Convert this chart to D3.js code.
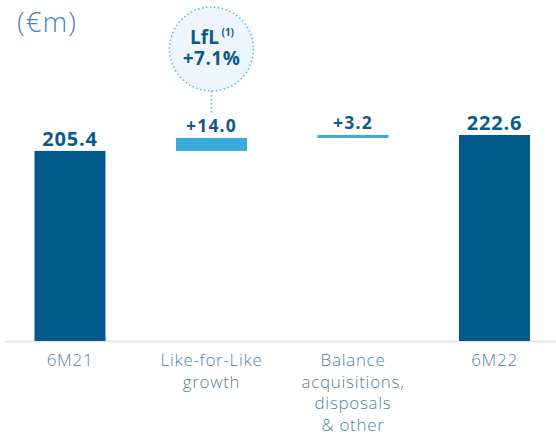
<!DOCTYPE html>
<html>
<head>
<meta charset="utf-8">
<script src="https://cdn.jsdelivr.net/npm/d3@7"></script>
<style>
  html, body { margin: 0; padding: 0; background: #fff; }
  svg { display: block; font-family: "Open Sans", "Noto Sans", sans-serif; }
</style>
</head>
<body>
<svg id="chart" width="556" height="435"></svg>
<script>
// Revenue bridge, €m
const categories = ["6M21", "Like-for-Like growth", "Balance acquisitions, disposals & other", "6M22"];
const categoryLines = [["6M21"], ["Like-for-Like", "growth"], ["Balance", "acquisitions,", "disposals", "& other"], ["6M22"]];
const kinds = ["total", "delta", "delta", "total"];
const values = [205.4, 14.0, 3.2, 222.6];
const valueLabels = ["205.4", "+14.0", "+3.2", "222.6"];
const unitLabel = "(€m)";
const lflBubble = { title: "LfL", note: "(1)", value: "+7.1%" };

const svg = d3.select("#chart");
const W = 556;

const colors = { total: "#025a8c", delta: "#3aa9dc", value: "#0c5a8b", cat: "#4f80a8", unit: "#4a86b6" };

// Running totals for the waterfall
let running = 0;
const bars = values.map((v, i) => {
  let y0, y1;
  if (kinds[i] === "total") { y0 = 0; y1 = v; running = v; }
  else { y0 = running; y1 = running + v; running = y1; }
  return { cat: categories[i], kind: kinds[i], y0, y1, label: valueLabels[i], lines: categoryLines[i] };
});

const x = d3.scalePoint().domain(categories).range([70, 494.5]);
const barW = 71;
const y = d3.scaleLinear().domain([0, 222.6]).range([341, 135]);

// Baseline
svg.append("line")
  .attr("x1", 5).attr("x2", W)
  .attr("y1", y(0) + 0.5).attr("y2", y(0) + 0.5)
  .attr("stroke", "#e4e8ee").attr("stroke-width", 2);

// Bars
svg.append("g").selectAll("rect")
  .data(bars).join("rect")
  .attr("x", d => x(d.cat) - barW / 2)
  .attr("width", barW)
  .attr("y", d => y(d.y1))
  .attr("height", d => Math.max(1, y(d.y0) - y(d.y1)))
  .attr("fill", d => colors[d.kind]);

// Value labels
svg.append("g").selectAll("text")
  .data(bars).join("text")
  .attr("x", d => x(d.cat))
  .attr("y", d => y(d.y1) - (d.kind === "total" ? 5 : 6))
  .attr("text-anchor", "middle")
  .attr("font-weight", 700)
  .attr("font-size", d => d.kind === "total" ? 20 : 17.5)
  .attr("letter-spacing", d => d.kind === "total" ? 0.8 : 1.2)
  .attr("fill", colors.value)
  .text(d => d.label);

// Category labels
const catG = svg.append("g");
bars.forEach(d => {
  const t = catG.append("text")
    .attr("x", x(d.cat))
    .attr("y", 366)
    .attr("text-anchor", "middle")
    .attr("font-size", 17)
    .attr("font-weight", 300)
    .attr("letter-spacing", 0.7)
    .attr("fill", colors.cat);
  d.lines.forEach((ln, j) => {
    t.append("tspan").attr("x", x(d.cat)).attr("dy", j === 0 ? 0 : 21.5).text(ln);
  });
});

// Unit label
svg.append("text")
  .attr("x", 17).attr("y", 32)
  .attr("font-size", 28).attr("font-weight", 300)
  .attr("letter-spacing", 1)
  .attr("fill", colors.unit)
  .text(unitLabel);

// LfL bubble above the like-for-like bar
const bx = x(categories[1]), by = 49, br = 42;
svg.append("line")
  .attr("x1", bx).attr("x2", bx)
  .attr("y1", by + br).attr("y2", y(bars[1].y1) - 25)
  .attr("stroke", "#5cb4e0").attr("stroke-width", 1.5)
  .attr("stroke-dasharray", "1.5,2.5");
svg.append("circle")
  .attr("cx", bx).attr("cy", by).attr("r", br)
  .attr("fill", "#eef5fc")
  .attr("stroke", "#5cb4e0").attr("stroke-width", 1.5)
  .attr("stroke-dasharray", "1.5,2.5");
const bubbleText = svg.append("text")
  .attr("fill", colors.value).attr("font-weight", 700);
bubbleText.append("tspan")
  .attr("x", bx - 7).attr("y", 44)
  .attr("text-anchor", "middle")
  .attr("font-size", 19)
  .text(lflBubble.title);
bubbleText.append("tspan")
  .attr("x", bx + 10).attr("y", 36)
  .attr("font-size", 10)
  .text(lflBubble.note);
bubbleText.append("tspan")
  .attr("x", bx).attr("y", 65)
  .attr("text-anchor", "middle")
  .attr("font-size", 19).attr("letter-spacing", 0.5)
  .text(lflBubble.value);
</script>
</body>
</html>
